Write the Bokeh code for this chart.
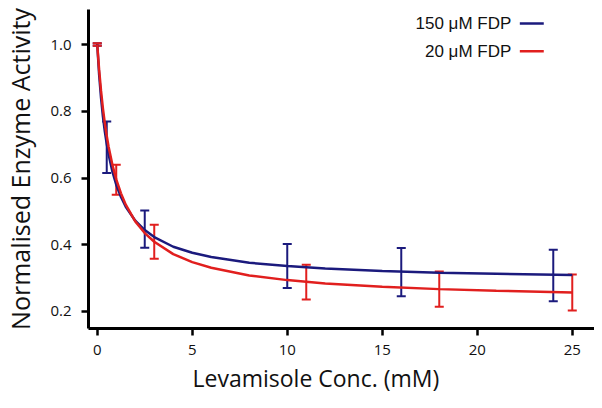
from bokeh.plotting import figure
from bokeh.models import ColumnDataSource, Whisker, TeeHead, FixedTicker, Range1d, Label, Title
from bokeh.embed import file_html
from bokeh.resources import INLINE

# --- data ---
conc_150 = [0, 0.5, 2.5, 10, 16, 24]
act_150 = [1.0, 0.692, 0.447, 0.336, 0.318, 0.308]
err_150 = [0.004, 0.077, 0.056, 0.066, 0.072, 0.077]

conc_20 = [0, 1, 3, 11, 18, 25]
act_20 = [1.0, 0.595, 0.409, 0.288, 0.267, 0.257]
err_20 = [0.004, 0.045, 0.051, 0.052, 0.053, 0.054]

# fitted curves
fit_x = [0, 0.1, 0.2, 0.3, 0.4, 0.5, 0.6, 0.8, 1, 1.25, 1.5, 2, 2.5, 3, 4, 5, 6, 8, 10, 12, 15, 18, 21, 25]
fit_150 = [1.0, 0.910, 0.840, 0.784, 0.739, 0.702, 0.670, 0.619, 0.580, 0.543, 0.514, 0.472, 0.444, 0.423,
           0.394, 0.376, 0.363, 0.346, 0.336, 0.329, 0.321, 0.316, 0.313, 0.309]
fit_20 = [1.0, 0.924, 0.861, 0.808, 0.764, 0.726, 0.693, 0.639, 0.596, 0.554, 0.520, 0.470, 0.435, 0.409,
          0.372, 0.348, 0.331, 0.308, 0.294, 0.284, 0.274, 0.267, 0.262, 0.257]

x_ticks = [0, 5, 10, 15, 20, 25]
y_ticks = [0.2, 0.4, 0.6, 0.8, 1.0]
y_tick_labels = ["0.2", "0.4", "0.6", "0.8", "1.0"]

x_title = "Levamisole Conc. (mM)"
y_title = "Normalised Enzyme Activity"
series_names = ["150 \u03bcM FDP", "20 \u03bcM FDP"]
BLUE = "#1b1a7d"
RED = "#e11f1e"

p = figure(width=594, height=400, output_backend="svg", toolbar_location=None,
           x_range=Range1d(-0.46, 26.17), y_range=Range1d(0.149, 1.105),
           min_border_left=88, min_border_right=0, min_border_top=9, min_border_bottom=72)
p.outline_line_color = None
p.xgrid.visible = False
p.ygrid.visible = False
p.background_fill_color = "white"
p.border_fill_color = "white"

# curves
p.line(fit_x, fit_150, line_color=BLUE, line_width=2.5)
p.line(fit_x, fit_20, line_color=RED, line_width=2.5)

def add_err(xs, ys, es, color):
    src = ColumnDataSource(dict(x=xs, upper=[y + e for y, e in zip(ys, es)],
                                lower=[y - e for y, e in zip(ys, es)]))
    w = Whisker(base="x", upper="upper", lower="lower", source=src,
                line_color=color, line_width=2,
                upper_head=TeeHead(size=9, line_color=color, line_width=2),
                lower_head=TeeHead(size=9, line_color=color, line_width=2))
    p.add_layout(w)

add_err(conc_150, act_150, err_150, BLUE)
add_err(conc_20, act_20, err_20, RED)

# axes
for ax in (p.xaxis[0], p.yaxis[0]):
    ax.axis_line_width = 3
    ax.axis_line_color = "black"
    ax.major_tick_line_width = 2.5
    ax.major_tick_line_color = "black"
    ax.major_tick_out = 7
    ax.major_tick_in = 0
    ax.minor_tick_line_color = None
    ax.major_label_text_font = "Open Sans"
    ax.major_label_text_font_size = "15px"
    ax.major_label_text_color = "#111111"
    ax.axis_label_text_font = "Open Sans"
    ax.axis_label_text_font_style = "normal"
    ax.axis_label_text_color = "#111111"

p.yaxis.axis_label_text_font_size = "25px"
p.xaxis.major_label_standoff = 9
p.yaxis.major_label_standoff = 10
p.xaxis.ticker = FixedTicker(ticks=x_ticks)
p.yaxis.ticker = FixedTicker(ticks=y_ticks)
p.yaxis.major_label_overrides = {t: l for t, l in zip(y_ticks, y_tick_labels)}
p.yaxis.axis_label = y_title
p.yaxis.axis_label_standoff = 10

# x-axis title placed off-centre as in the reference
p.add_layout(Title(text=x_title, align="left", offset=104, text_font="Open Sans",
                   text_font_size="23px", text_font_style="normal", text_color="#111111",
                   standoff=4), "below")

# custom legend: text then line sample
leg_y = [1.063, 0.980]
leg_colors = [BLUE, RED]
for name, yy, col in zip(series_names, leg_y, leg_colors):
    p.add_layout(Label(x=21.79, y=yy, text=name, text_align="right", text_baseline="middle",
                       text_font="Liberation Sans", text_font_size="17px", text_color="#111111"))
    p.segment(x0=[22.24], y0=[yy], x1=[23.5], y1=[yy], line_color=col, line_width=2.5)

open("out.html", "w").write(file_html(p, INLINE))
